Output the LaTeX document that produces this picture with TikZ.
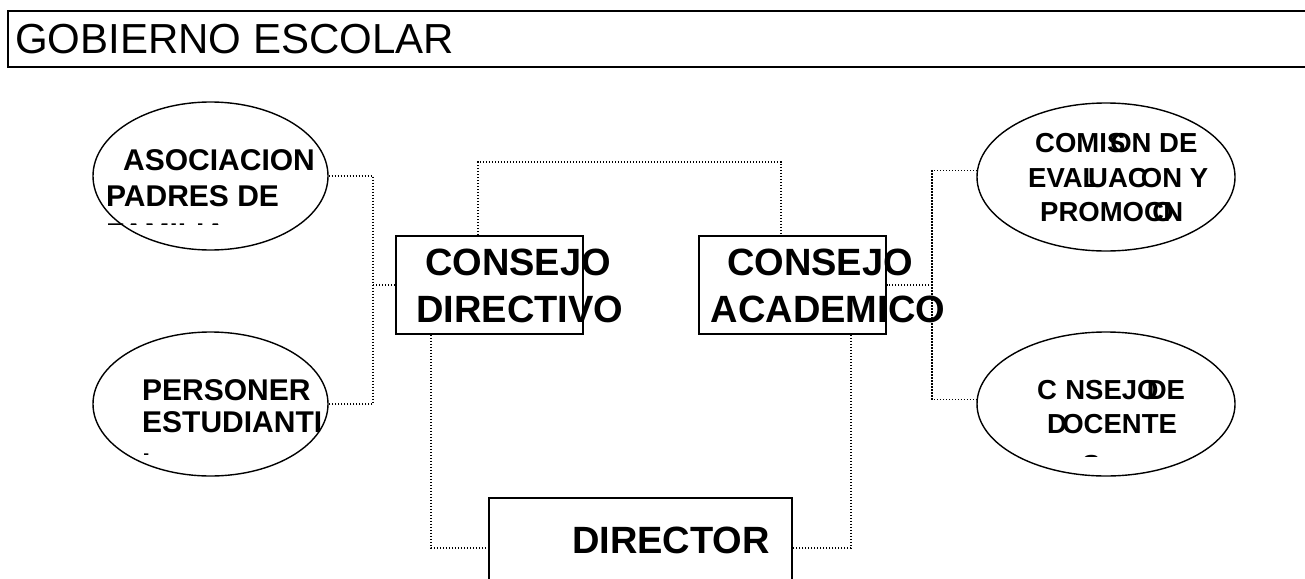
\documentclass[tikz,border=0pt]{standalone}
\usepackage{fontspec}
\setmainfont{Liberation Sans}
\usetikzlibrary{shapes.geometric}
\tikzstyle{organo}=[rectangle, draw, line width=1.6pt, inner sep=0pt]
\tikzstyle{comite}=[ellipse, draw, line width=1.4pt, inner sep=0pt, minimum width=235pt, minimum height=148pt]
\tikzstyle{enlace}=[line width=1.4pt, dash pattern=on 1.3pt off 1.7pt]
\tikzstyle{grande}=[inner sep=0pt, anchor=base, font=\fontsize{38}{47}\selectfont\bfseries]
\tikzstyle{mediano}=[inner sep=0pt, anchor=base west, font=\fontsize{30}{36}\selectfont\bfseries]
\tikzstyle{chico}=[inner sep=0pt, anchor=base west, font=\fontsize{27.5}{34}\selectfont\bfseries]
\begin{document}
\begin{tikzpicture}[x=1pt, y=-1pt]
                \useasboundingbox (0,0) rectangle (1305,578);
                \fill[white] (0,0) rectangle (1305,578);
                \clip (0,0) rectangle (1305,578);
                % titulo
                \draw[line width=2.2pt] (8,11) rectangle (1320,67);
                \node[inner sep=0pt, anchor=base west, font=\fontsize{42}{50}\selectfont] (titulo) at (15,54) {GOBIERNO ESCOLAR};
                % organos
                \node[organo, minimum width=187pt, minimum height=98pt] (directivo) at (489.5,285) {};
                \node[organo, minimum width=187pt, minimum height=98pt] (academico) at (792.5,285) {};
                \node[organo, minimum width=303pt, minimum height=100pt] (director) at (640.5,548) {};
                \node[grande] (directivo1) at (518,275) {CONSEJO};
                \node[grande] (directivo2) at (520,322) {DIRECTIVO};
                \node[grande] (academico1) at (820,275) {CONSEJO};
                \node[grande] (academico2) at (828,322) {ACADEMICO};
                \node[grande] (director1) at (671,553) {DIRECTOR};
                % comites
                \node[comite] (asociacion) at (210.5,176) {};
                \node[comite, minimum height=144pt] (personero) at (210.5,404) {};
                \node[comite, minimum width=258pt] (comision) at (1106,177) {};
                \node[comite, minimum width=258pt, minimum height=144pt] (docente) at (1106,404) {};
                \node[mediano] (asociacion1) at (123,170) {ASOCIACION};
                \node[mediano] (asociacion2) at (106,206) {PADRES DE};
                \node[mediano] (personero1) at (142,400) {PERSONER};
                \node[mediano] (personero2) at (142,432) {ESTUDIANTI};
                \node[chico] (comision1) at (1035,152) {COMI\rlap{S}\kern0.12em ON DE};
                \node[chico] (comision2) at (1028,187) {EVA\rlap{L}\kern0.2em UAC\kern-0.25em ON Y};
                \node[chico] (comision3) at (1040,221) {PROMO\rlap{C}\kern0.3em\rlap{O}\kern0.4em N};
                \node[chico] (docente1) at (1037,399) {C\kern0.3em NSEJ\rlap{O}\kern0.35em DE};
                \node[chico] (docente2) at (1047,433) {\rlap{D}\kern0.55em OCENTE};
                % restos de texto cortado
                \begin{scope}
                    \clip (100,200) rectangle (240,224);
                    \node[mediano] (asociacion3) at (106,244) {FAMILIA};
                \end{scope}
                \begin{scope}
                    \clip (130,440) rectangle (160,454.5);
                    \node[mediano] (personero3) at (142,474) {L};
                \end{scope}
                \begin{scope}
                    \clip (1070,440) rectangle (1110,456);
                    \node[chico] (docente3) at (1082,474) {S};
                \end{scope}
                % enlaces
                \coordinate (izq) at (373,285);
                \coordinate (der) at (932,285);
                \coordinate (t1) at (478,162);
                \coordinate (t2) at (781,162);
                \coordinate (b1) at (431,548);
                \coordinate (b2) at (851,548);
                \draw[enlace] (asociacion.east) -| (izq) |- (personero.east);
                \draw[enlace] (izq) -- (directivo.west);
                \draw[enlace] (comision.177) -| (der) |- (docente.178);
                \draw[enlace] (der) -- (academico.east);
                \draw[enlace] (directivo.north -| t1) |- (t2) -- (academico.north -| t2);
                \draw[enlace] (directivo.south -| b1) |- (director.west);
                \draw[enlace] (academico.south -| b2) |- (director.east);
            \end{tikzpicture}
\end{document}
